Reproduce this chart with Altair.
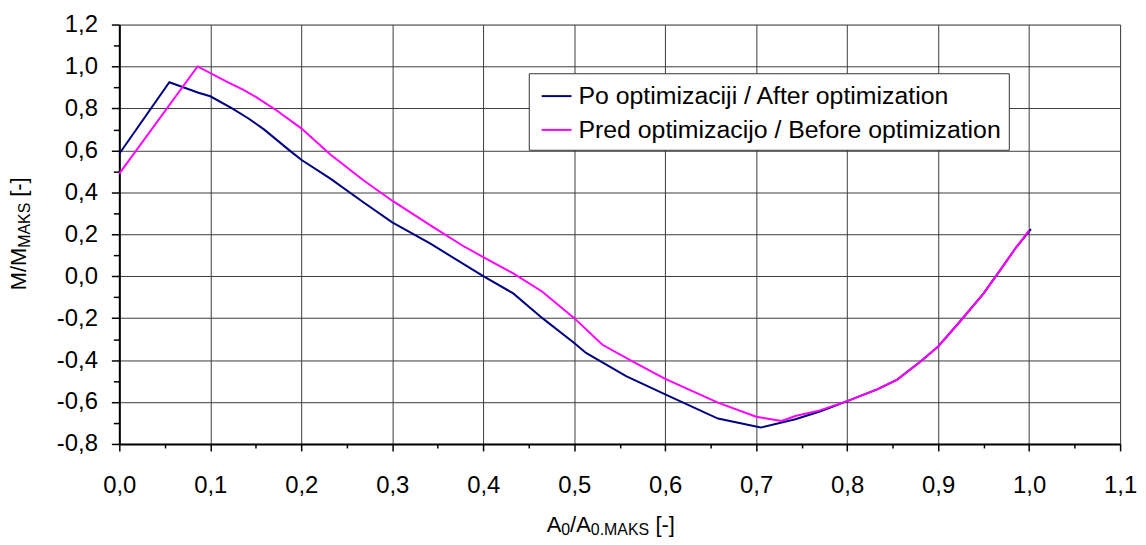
import altair as alt
import pandas as pd
import numpy as np

# ---- data ----
after_x = [0.0, 0.055, 0.087, 0.1, 0.124, 0.142, 0.159, 0.187, 0.2, 0.232, 0.269, 0.3, 0.342,
           0.4, 0.433, 0.465, 0.5, 0.513, 0.557, 0.6, 0.658, 0.705, 0.743, 0.77, 0.8,
           0.833, 0.855, 0.881, 0.9, 0.924, 0.95, 0.968, 0.986, 1.002]
after_y = [0.584, 0.925, 0.875, 0.858, 0.80, 0.752, 0.70, 0.60, 0.555, 0.465, 0.35, 0.257, 0.155,
           0.0, -0.082, -0.2, -0.319, -0.366, -0.477, -0.564, -0.679, -0.722, -0.682, -0.645, -0.596,
           -0.540, -0.493, -0.406, -0.335, -0.216, -0.082, 0.028, 0.139, 0.224]

before_x = [0.0, 0.086, 0.119, 0.136, 0.15, 0.173, 0.2, 0.232, 0.269, 0.3, 0.342, 0.378, 0.4, 0.433,
            0.465, 0.5, 0.531, 0.564, 0.6, 0.658, 0.7, 0.728, 0.743, 0.77, 0.8, 0.833,
            0.855, 0.881, 0.9, 0.924, 0.95, 0.968, 0.986, 1.0]
before_y = [0.489, 1.0, 0.925, 0.89, 0.855, 0.79, 0.705, 0.58, 0.455, 0.36, 0.242, 0.144, 0.091, 0.013,
            -0.074, -0.2, -0.327, -0.406, -0.49, -0.603, -0.67, -0.69, -0.667, -0.64, -0.596, -0.540,
            -0.493, -0.406, -0.335, -0.216, -0.082, 0.028, 0.139, 0.218]

series_names = ["Po optimizaciji / After optimization", "Pred optimizacijo / Before optimization"]
series_colors = ["#000080", "#FF00FF"]

x_ticks = [round(v, 2) for v in np.arange(0, 1.1001, 0.05)]
y_ticks = [round(v, 2) for v in np.arange(-0.8, 1.2001, 0.1)]

df = pd.concat([
    pd.DataFrame({"x": after_x, "y": after_y, "s": series_names[0], "i": range(len(after_x))}),
    pd.DataFrame({"x": before_x, "y": before_y, "s": series_names[1], "i": range(len(before_x))}),
])

FONT = "Liberation Sans"

def lab_expr(mult):
    test = f"abs(datum.value*{mult} - round(datum.value*{mult})) < 1e-6"
    return (f"{test} ? ((datum.value < -1e-9 ? '-' : '') + "
            f"replace(format(abs(datum.value), '.1f'), '.', ',')) : ''")

def cond(mult, a, b):
    return {"condition": {"test": f"abs(datum.value*{mult} - round(datum.value*{mult})) < 1e-6", "value": a},
            "value": b}

x_axis = alt.Axis(values=x_ticks, labelExpr=lab_expr(10), title=None, grid=True,
                  gridColor="#3c3c3c", gridWidth=1, gridOpacity=cond(10, 1, 0),
                  tickSize=cond(10, 7, 4), tickColor="black", tickWidth=1.5,
                  domainColor="black", domainWidth=2, labelFont=FONT, labelFontSize=24,
                  labelColor="black", labelPadding=23, labelFlush=False, labelOverlap=False)
y_axis = alt.Axis(values=y_ticks, labelExpr=lab_expr(5), title=None, grid=True,
                  gridColor="#3c3c3c", gridWidth=1, gridOpacity=cond(5, 1, 0),
                  tickSize=cond(5, 8, 6), tickColor="black", tickWidth=1.5,
                  domainColor="black", domainWidth=2, labelFont=FONT, labelFontSize=24,
                  labelColor="black", labelPadding=14, labelFlush=False, labelOverlap=False)

color = alt.Color("s:N", scale=alt.Scale(domain=series_names, range=series_colors),
                  legend=alt.Legend(title=None, orient="none", legendX=412, legendY=49,
                                    symbolType="stroke", symbolSize=900, symbolStrokeWidth=2,
                                    symbolOffset=5,
                                    labelFont=FONT, labelFontSize=25, labelColor="black",
                                    labelOffset=6, labelLimit=0, rowPadding=5,
                                    padding=7, strokeColor="#333333", fillColor="white",
                                    cornerRadius=0))

base = alt.Chart(df).mark_line(strokeWidth=2).encode(
    x=alt.X("x:Q", scale=alt.Scale(domain=[0, 1.1], nice=False, zero=False), axis=x_axis),
    y=alt.Y("y:Q", scale=alt.Scale(domain=[-0.8, 1.2], nice=False, zero=False), axis=y_axis),
    color=color,
    order="i:Q",
)
line_after = base.transform_filter(alt.datum.s == series_names[0])
line_before = base.transform_filter(alt.datum.s == series_names[1])

def piece(txt, px, py, size, angle=0):
    return alt.Chart(pd.DataFrame({"t": [txt]})).mark_text(
        font=FONT, fontSize=size, align="left", baseline="alphabetic", angle=angle, color="black"
    ).encode(x=alt.value(px), y=alt.value(py), text="t:N")

x_title = [
    piece("A", 430, 511, 22),
    piece("0", 444.7, 514, 16),
    piece("/A", 453.6, 511, 22),
    piece("0.MAKS", 474.4, 514, 16),
    piece("[-]", 539.5, 511, 22),
]
y_title = [
    piece("M/M", -94, 267.4, 22, 270),
    piece("MAKS", -89.5, 224.6, 16, 270),
    piece("[-]", -94, 173.3, 22, 270),
]

chart = alt.layer(line_after, line_before, *x_title, *y_title).properties(
    width=1007, height=422,
    autosize=alt.AutoSizeParams(type="none"),
    padding={"left": 112, "top": 15, "right": 18, "bottom": 97},
).configure_view(stroke=None).configure(background="white")

chart.save("out.html", embed_options={"renderer": "svg", "actions": False})
